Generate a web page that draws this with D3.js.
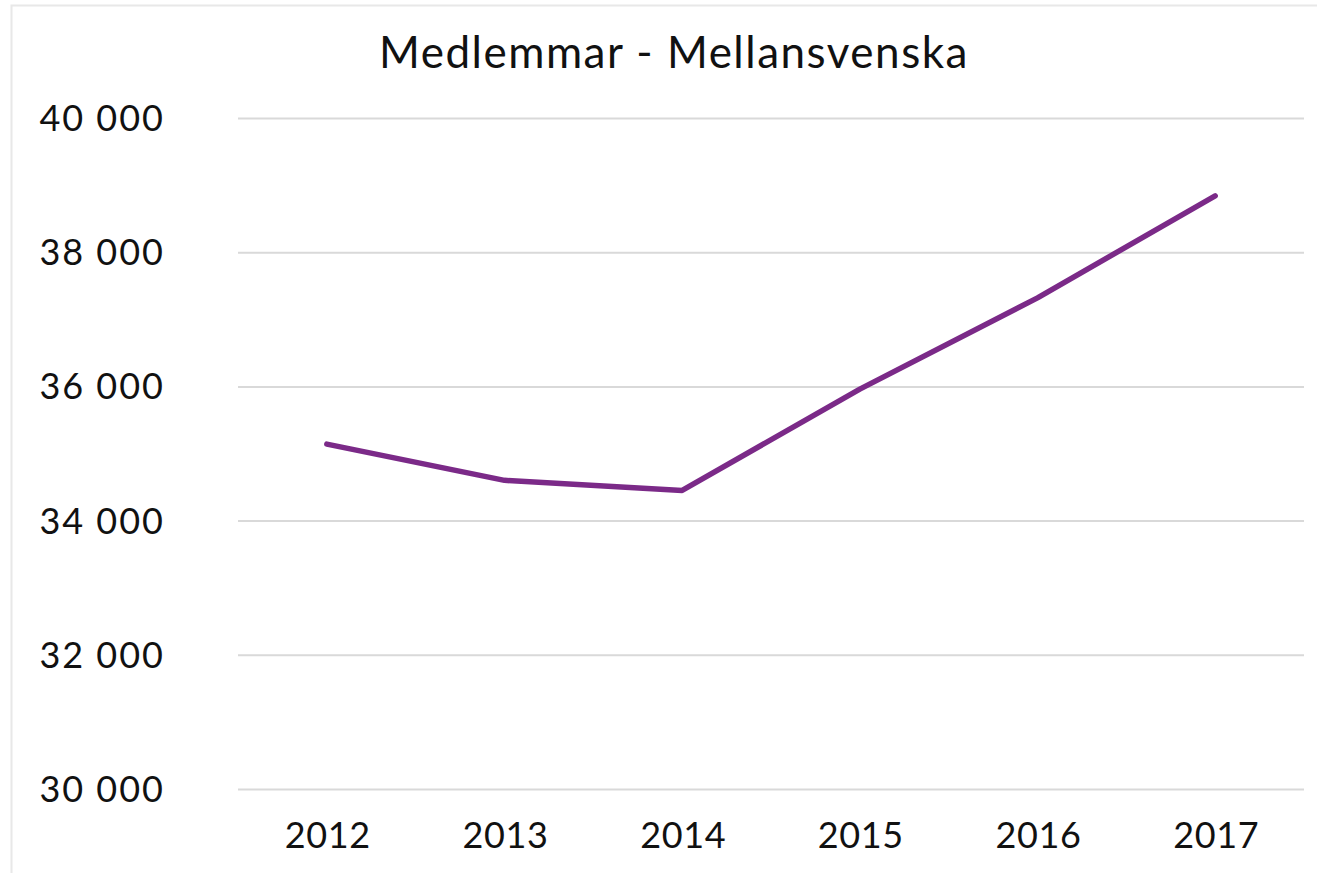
<!DOCTYPE html>
<html>
<head>
<meta charset="utf-8">
<script src="https://cdn.jsdelivr.net/npm/d3@7"></script>
<style>
  body { margin: 0; background: #fff; }
  text { font-family: Lato, "Open Sans", sans-serif; fill: #111; font-weight: 400; }
</style>
</head>
<body>
<svg id="chart"></svg>
<script>
const years = ['2012', '2013', '2014', '2015', '2016', '2017']
const members = [35140, 34600, 34450, 35960, 37320, 38840]
const yTicks = [30000, 32000, 34000, 36000, 38000, 40000]
const title = 'Medlemmar - Mellansvenska'

const width = 1317, height = 873
const margin = {top: 118, right: 13, bottom: 84, left: 238}

const svg = d3.select('#chart')
    .attr('width', width)
    .attr('height', height)

// outer frame (only top and left edges show in the picture)
svg.append('path')
    .attr('d', `M11.5,${height} V5.5 H${width}`)
    .attr('fill', 'none')
    .attr('stroke', '#e8e8e8')
    .attr('stroke-width', 2)

const x = d3.scaleBand()
    .domain(years)
    .range([margin.left, width - margin.right])

const y = d3.scaleLinear()
    .domain([30000, 40000])
    .range([height - margin.bottom, margin.top])

const fmt = d => d3.format(',')(d).replace(',', ' ')

// gridlines
svg.append('g')
    .attr('transform', `translate(${margin.left},0)`)
    .call(d3.axisLeft(y).tickValues(yTicks).tickSize(-(width - margin.right - margin.left)).tickFormat(''))
    .call(g => g.select('.domain').remove())
    .call(g => g.selectAll('line').attr('stroke', '#d9d9d9').attr('stroke-width', 2))

// y labels
svg.append('g')
    .selectAll('text')
    .data(yTicks)
    .enter()
    .append('text')
    .attr('x', 165)
    .attr('y', d => y(d))
    .attr('dy', '0.36em')
    .attr('text-anchor', 'end')
    .attr('font-size', 36)
    .attr('letter-spacing', 2)
    .text(fmt)

// x labels
svg.append('g')
    .selectAll('text')
    .data(years)
    .enter()
    .append('text')
    .attr('x', d => x(d) + x.bandwidth() / 2 + 1)
    .attr('y', 848)
    .attr('text-anchor', 'middle')
    .attr('font-size', 36)
    .attr('letter-spacing', 0.6)
    .text(d => d)

const line = d3.line()
    .x((d, i) => x(years[i]) + x.bandwidth() / 2)
    .y(d => y(d))

svg.append('path')
    .datum(members)
    .attr('d', line)
    .attr('fill', 'none')
    .attr('stroke', '#7b2a88')
    .attr('stroke-width', 5.5)
    .attr('stroke-linecap', 'round')
    .attr('stroke-linejoin', 'round')

svg.append('text')
    .attr('x', 674)
    .attr('y', 68)
    .attr('text-anchor', 'middle')
    .attr('font-size', 44)
    .attr('letter-spacing', 1.5)
    .text(title)
</script>
</body>
</html>
